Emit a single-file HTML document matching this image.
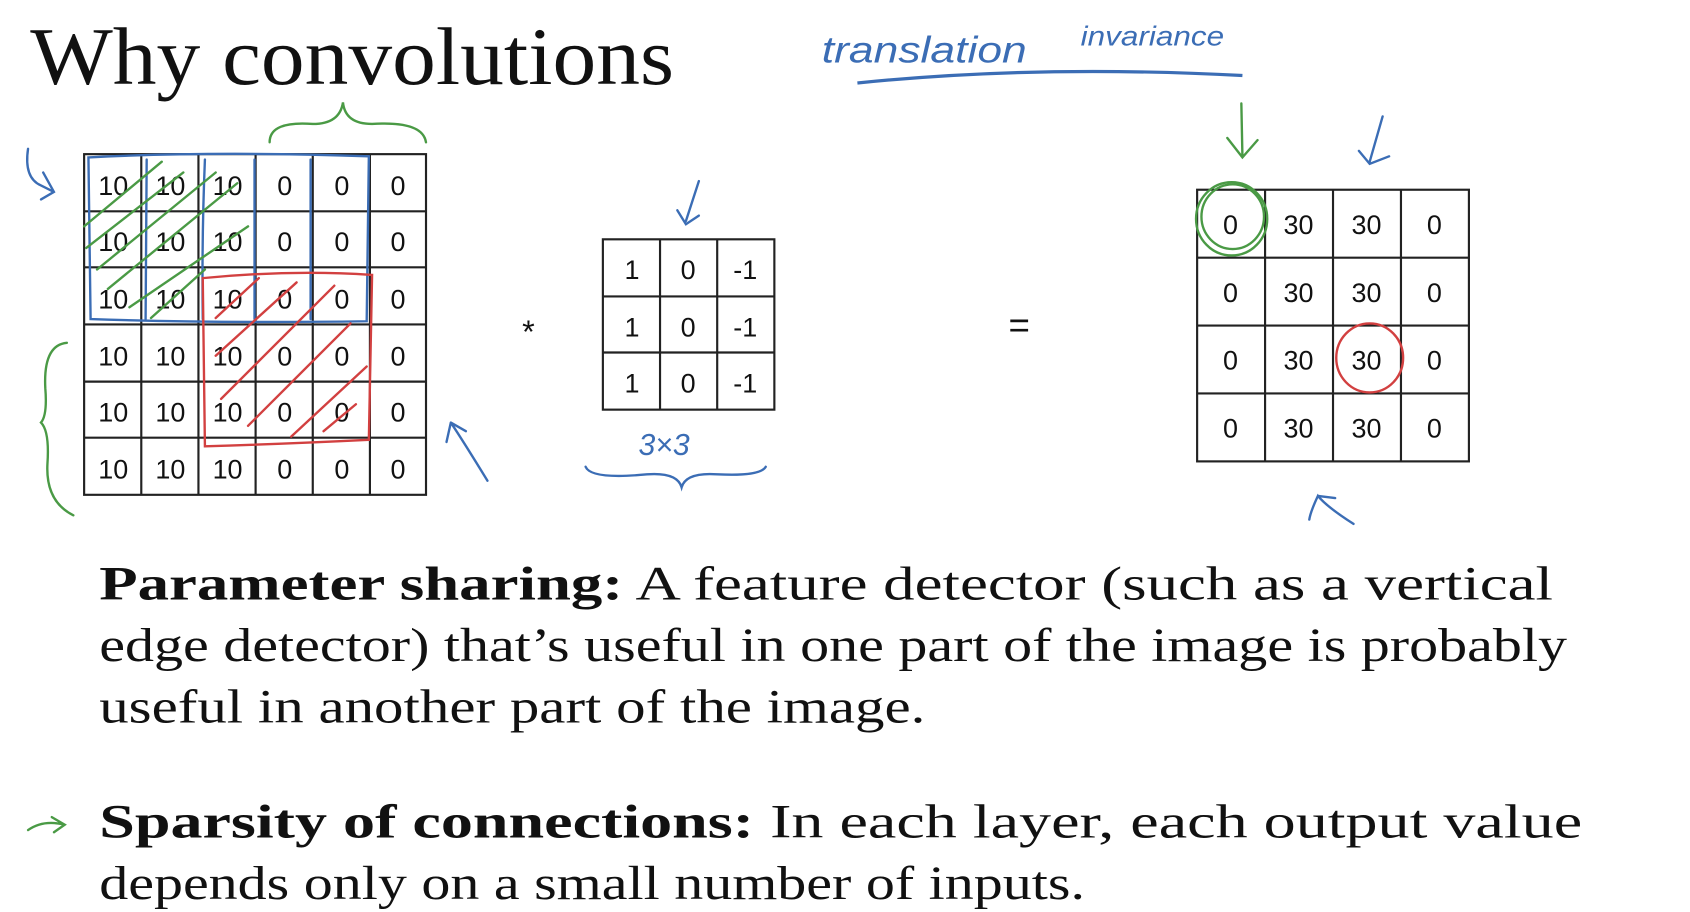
<!DOCTYPE html>
<html><head><meta charset="utf-8"><style>
html,body{margin:0;padding:0;background:#fff;width:1690px;height:912px;overflow:hidden}
svg{display:block}
</style></head><body>
<svg width="1690" height="912" viewBox="0 0 1567 846" preserveAspectRatio="none" xmlns="http://www.w3.org/2000/svg">
<rect width="1567" height="846" fill="#fff"/>
<text x="28" y="78" font-family="Liberation Serif, serif" font-size="76" fill="#111" textLength="597" lengthAdjust="spacingAndGlyphs">Why convolutions</text>

<!-- translation invariance -->
<text x="762" y="58" font-family="Liberation Sans, sans-serif" font-size="34" fill="#3b6db5" font-style="italic" textLength="190" lengthAdjust="spacingAndGlyphs">translation</text>
<text x="1002" y="42" font-family="Liberation Sans, sans-serif" font-size="26" fill="#3b6db5" font-style="italic" textLength="133" lengthAdjust="spacingAndGlyphs">invariance</text>
<path d="M795 77 Q960 60 1152 70" stroke="#3b6db5" stroke-width="3" fill="none"/>

<g font-family="Liberation Sans, sans-serif" font-size="25" fill="#111" text-anchor="middle">
<g stroke="#222" stroke-width="2" fill="none">
<rect x="78" y="143" width="317" height="316"/>
<path d="M131 143V459M184 143V459M237 143V459M290 143V459M343 143V459M78 196H395M78 248H395M78 301H395M78 354H395M78 406H395"/>
</g>
<g>
<text x="105" y="181">10</text><text x="158" y="181">10</text><text x="211" y="181">10</text><text x="264" y="181">0</text><text x="317" y="181">0</text><text x="369" y="181">0</text>
<text x="105" y="233">10</text><text x="158" y="233">10</text><text x="211" y="233">10</text><text x="264" y="233">0</text><text x="317" y="233">0</text><text x="369" y="233">0</text>
<text x="105" y="286">10</text><text x="158" y="286">10</text><text x="211" y="286">10</text><text x="264" y="286">0</text><text x="317" y="286">0</text><text x="369" y="286">0</text>
<text x="105" y="339">10</text><text x="158" y="339">10</text><text x="211" y="339">10</text><text x="264" y="339">0</text><text x="317" y="339">0</text><text x="369" y="339">0</text>
<text x="105" y="391">10</text><text x="158" y="391">10</text><text x="211" y="391">10</text><text x="264" y="391">0</text><text x="317" y="391">0</text><text x="369" y="391">0</text>
<text x="105" y="444">10</text><text x="158" y="444">10</text><text x="211" y="444">10</text><text x="264" y="444">0</text><text x="317" y="444">0</text><text x="369" y="444">0</text>
</g>
<g stroke="#222" stroke-width="2" fill="none">
<rect x="559" y="222" width="159" height="158"/>
<path d="M612 222V380M665 222V380M559 275H718M559 327H718"/>
</g>
<text x="586" y="259">1</text><text x="638" y="259">0</text><text x="691" y="259">-1</text>
<text x="586" y="312">1</text><text x="638" y="312">0</text><text x="691" y="312">-1</text>
<text x="586" y="364">1</text><text x="638" y="364">0</text><text x="691" y="364">-1</text>
<text x="490" y="318" font-size="30">*</text>
<text x="945" y="313" font-size="34">=</text>
<g stroke="#222" stroke-width="2" fill="none">
<rect x="1110" y="176" width="252" height="252"/>
<path d="M1173 176V428M1236 176V428M1299 176V428M1110 239H1362M1110 302H1362M1110 365H1362"/>
</g>
<text x="1141" y="217">0</text><text x="1204" y="217">30</text><text x="1267" y="217">30</text><text x="1330" y="217">0</text>
<text x="1141" y="280">0</text><text x="1204" y="280">30</text><text x="1267" y="280">30</text><text x="1330" y="280">0</text>
<text x="1141" y="343">0</text><text x="1204" y="343">30</text><text x="1267" y="343">30</text><text x="1330" y="343">0</text>
<text x="1141" y="406">0</text><text x="1204" y="406">30</text><text x="1267" y="406">30</text><text x="1330" y="406">0</text>
</g>

<g fill="none" stroke-width="2.2" stroke-linecap="round">
<g stroke="#3b6db5">
<path d="M82 146 Q200 140 342 145 L340 298 Q200 300 84 296 Z"/>
<path d="M136 148 L135 296 M190 148 Q187 220 188 296 M236 148 L236 296 M288 148 L288 296"/>
<path d="M26 138 Q22 165 38 172 L50 178 M40 160 L50 178 L38 185"/>
<path d="M452 446 Q430 410 418 392 M418 392 L414 410 M418 392 L432 400"/>
<path d="M648 168 L636 205 M628 195 L636 208 L648 200"/>
<path d="M543 433 Q548 445 600 440 Q628 438 632 452 Q636 438 665 440 Q705 442 710 433"/>
<text x="592" y="422" font-family="Liberation Sans, sans-serif" font-size="28" fill="#3b6db5" stroke="none" font-style="italic">3×3</text>
<path d="M1282 108 L1270 150 M1260 140 L1270 152 L1288 145"/>
<path d="M1255 486 Q1230 470 1222 460 Q1215 475 1214 482 M1222 460 L1238 462"/>
</g>
<g stroke="#4a9a45">
<path d="M1151 96 L1152 145 M1138 128 L1152 146 L1166 130"/>
<ellipse cx="1142" cy="203" rx="33" ry="34"/>
<ellipse cx="1143" cy="201" rx="29" ry="30"/>
<path d="M250 132 Q250 112 290 115 Q315 115 318 95 Q320 115 345 115 Q392 112 395 132"/>
<path d="M62 318 Q40 320 42 360 Q44 385 38 392 Q46 400 44 430 Q42 465 68 478"/>
<path d="M26 770 Q40 760 60 765 M48 758 L60 765 L50 772"/>
<path d="M78 210 L150 150 M80 230 L170 160 M90 250 L200 160 M100 268 L220 170 M120 285 L230 210 M140 295 L190 250"/>
</g>
<g stroke="#d24040">
<path d="M188 258 Q270 250 345 255 L342 408 Q260 412 190 414 Z"/>
<path d="M200 295 L240 258 M200 330 L275 262 M205 370 L310 265 M230 395 L325 300 M270 405 L340 340 M300 400 L330 375"/>
<ellipse cx="1270" cy="332" rx="31" ry="32"/>
</g>
</g>

<g font-family="Liberation Serif, serif" font-size="44" fill="#111">
<text x="92" y="556" textLength="1348" lengthAdjust="spacingAndGlyphs"><tspan font-weight="bold">Parameter sharing:</tspan> A feature detector (such as a vertical</text>
<text x="92" y="613" textLength="1361" lengthAdjust="spacingAndGlyphs">edge detector) that’s useful in one part of the image is probably</text>
<text x="92" y="670" textLength="766" lengthAdjust="spacingAndGlyphs">useful in another part of the image.</text>
<text x="92" y="777" textLength="1375" lengthAdjust="spacingAndGlyphs"><tspan font-weight="bold">Sparsity of connections:</tspan> In each layer, each output value</text>
<text x="92" y="834" textLength="914" lengthAdjust="spacingAndGlyphs">depends only on a small number of inputs.</text>
</g>
</svg>
</body></html>
